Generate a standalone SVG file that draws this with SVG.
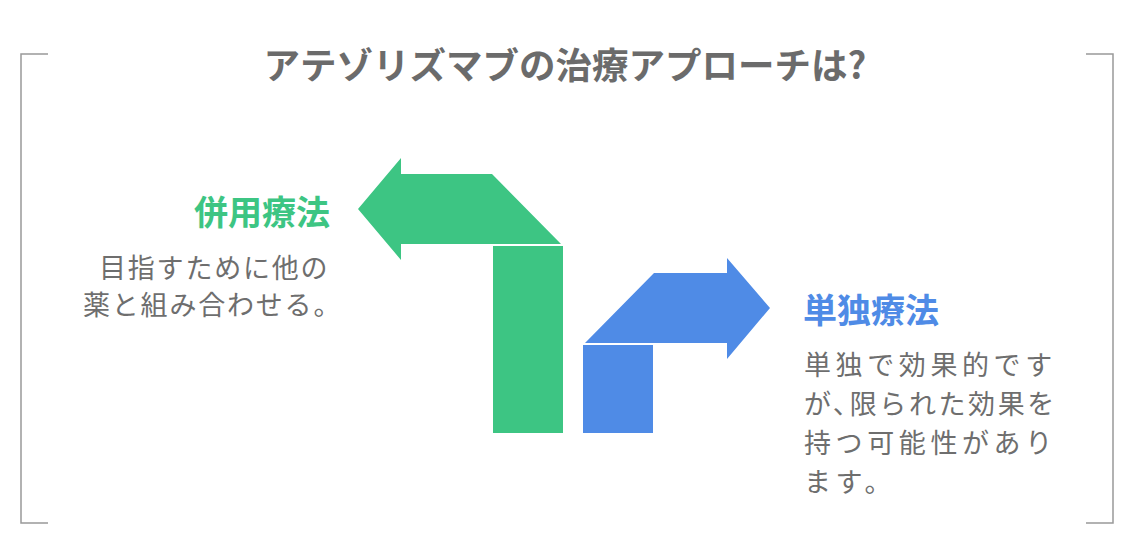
<svg xmlns="http://www.w3.org/2000/svg" width="1134" height="535" viewBox="0 0 1134 535">
<style>
.frame{fill:none;stroke:#999;stroke-width:1.5}
.title{font-family:"Noto Sans CJK JP",sans-serif;font-weight:700;font-size:36.5px;fill:#6b6b6b}
.head{font-family:"Noto Sans CJK JP",sans-serif;font-weight:700;font-size:34px}
.body{font-family:"Noto Sans CJK JP",sans-serif;font-size:27px;fill:#6e6e6e}
.green{fill:#3dc583}
.blue{fill:#4f8be6}
</style>
<rect width="1134" height="535" fill="#fff"/>
<g id="frame">
<path class="frame" d="M48,54 H21 V523 H48"/>
<path class="frame" d="M1086,54 H1113 V523 H1086"/>
</g>
<text class="title" x="565" y="79" text-anchor="middle">アテゾリズマブの治療アプローチは?</text>
<g id="connectors">
<polygon class="green" points="358,209 401,158 401,174 492,174 561,244 401,244 401,260"/>
<rect class="green" x="493" y="246" width="70" height="187"/>
<polygon class="blue" points="585,343 654,273 727,273 727,258 770,308 727,359 727,343"/>
<rect class="blue" x="583" y="345" width="70" height="88"/>
</g>
<g id="combo">
<text class="head green" x="330" y="225" text-anchor="end">併用療法</text>
<text class="body" letter-spacing="1.8"><tspan x="99" y="278">目指すために他の</tspan><tspan x="83" y="315">薬と組み合わせる。</tspan></text>
</g>
<g id="mono">
<text class="head blue" x="803" y="323">単独療法</text>
<text class="body"><tspan x="804" y="375" letter-spacing="4.6">単独で効果的です</tspan><tspan x="804" y="414" letter-spacing="2.6">が､限られた効果を</tspan><tspan x="804" y="453" letter-spacing="4.6">持つ可能性があり</tspan><tspan x="804" y="492" letter-spacing="4.6">ます。</tspan></text>
</g>
</svg>
